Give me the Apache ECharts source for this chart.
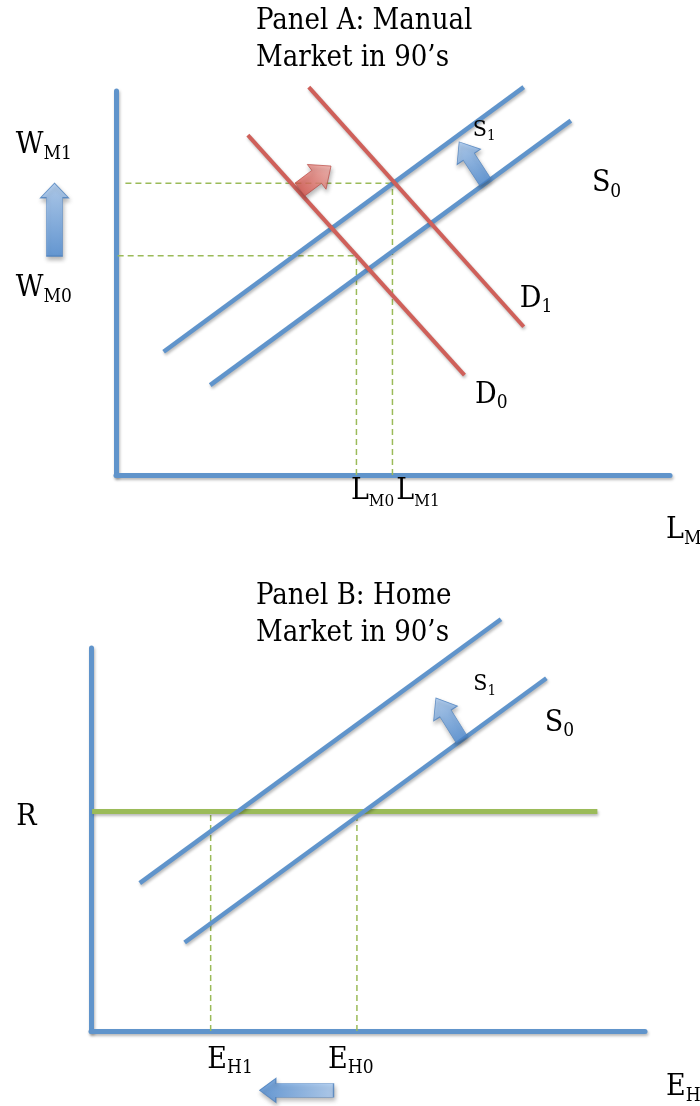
<!DOCTYPE html>
<html>
<head>
<meta charset="utf-8">
<script src="https://cdn.jsdelivr.net/npm/echarts@6/dist/echarts.min.js"></script>
<style>html,body{margin:0;padding:0;background:#fff}#c{width:700px;height:1106px}</style>
</head>
<body>
<div id="c"></div>
<script>
// ---------- DATA (axis units 0..100 on both axes of each panel) ----------
// Panel A: Manual market
const aSupply0 = [[17.0, 23.4], [82.1, 92.3]];
const aSupply1 = [[8.6, 32.1], [73.6, 101.0]];
const aDemand0 = [[23.8, 88.5], [62.9, 26.0]];
const aDemand1 = [[34.8, 101.0], [73.6, 38.6]];
const aWages = [57.1, 76.0];      // W_M0, W_M1
const aLabour = [43.4, 49.9];     // L_M0, L_M1
// Panel B: Home market
const bSupply0 = [[16.9, 23.1], [82.2, 92.1]];
const bSupply1 = [[8.8, 38.6], [74.0, 107.5]];
const bRate = 57.3;               // R
const bRateSpan = [0.2, 91.4];
const bEmployment = [21.6, 48.0]; // E_H1, E_H0

// ---------- STYLE ----------
const F = "'DejaVu Serif Condensed','DejaVu Serif',serif";
const BLUE = '#6094CB', RED = '#CF605A', GREEN = '#9BBB59';
const lineShadow = {shadowBlur: 3, shadowOffsetX: 1, shadowOffsetY: 2, shadowColor: 'rgba(0,0,0,0.28)'};

function arrowPath(headFrac, shaftFrac) {
  const H = headFrac * 100, s = shaftFrac * 50;
  return 'path://M50,0 L100,' + H + ' L' + (50 + s) + ',' + H + ' L' + (50 + s) + ',100 L' +
    (50 - s) + ',100 L' + (50 - s) + ',' + H + ' L0,' + H + ' Z';
}
function grad(c1, c2) {
  return new echarts.graphic.LinearGradient(0, 0, 0, 1, [{offset: 0, color: c1}, {offset: 1, color: c2}]);
}
const blueFill = grad('#A9CBF3', '#4E8DD6');
const redFill = grad('#F6B0AA', '#D9544B');

const rich = {
  m: {fontFamily: F, fontSize: 30, color: '#000', lineHeight: 34, verticalAlign: 'bottom', padding: [0, 0, 3, 0]},
  s: {fontFamily: F, fontSize: 19, color: '#000', lineHeight: 34, verticalAlign: 'bottom'},
  s3: {fontFamily: F, fontSize: 17, color: '#000', lineHeight: 34, verticalAlign: 'bottom'},
  m2: {fontFamily: F, fontSize: 23, color: '#000', lineHeight: 34, verticalAlign: 'bottom', padding: [0, 0, 3, 0]},
  s2: {fontFamily: F, fontSize: 15, color: '#000', lineHeight: 34, verticalAlign: 'bottom'}
};

function axisPair(grid) {
  return {
    type: 'value', min: 0, max: 100, gridIndex: grid,
    axisLine: {show: true, onZero: false, lineStyle: Object.assign({color: BLUE, width: 5}, lineShadow)},
    axisTick: {show: false}, axisLabel: {show: false}, splitLine: {show: false}
  };
}
function seg(name, data, gi, color, width, dashed, z) {
  return {
    name: name, type: 'line', xAxisIndex: gi, yAxisIndex: gi, data: data,
    showSymbol: false, symbol: 'none', clip: false, silent: true, z: z || 3,
    lineStyle: Object.assign({color: color, width: width, type: dashed ? [6, 4] : 'solid', cap: 'butt'},
      dashed ? {} : lineShadow)
  };
}
function arrows(gi, items) {
  return {
    type: 'scatter', xAxisIndex: gi, yAxisIndex: gi, clip: false, silent: true, z: 6,
    data: items.map(a => ({
      value: a.at, symbol: arrowPath(a.head, a.shaft), symbolSize: a.size, symbolRotate: a.rot,
      itemStyle: {color: a.fill, borderColor: a.border, borderWidth: 0.8,
        shadowBlur: 4, shadowOffsetX: 1, shadowOffsetY: 3, shadowColor: 'rgba(0,0,0,0.35)'}
    }))
  };
}
function labels(gi, items) {
  return {
    type: 'scatter', xAxisIndex: gi, yAxisIndex: gi, clip: false, silent: true, z: 7,
    symbolSize: 0,
    data: items.map(l => ({value: l.at, label: {show: true, position: 'right', distance: 0, color: '#000',
      opacity: 1, formatter: l.text, rich: rich}}))
  };
}

const series = [
  // Panel A guides
  seg('wM1', [[1.7, aWages[1]], [aLabour[1], aWages[1]]], 0, GREEN, 1.5, true, 2),
  seg('wM0', [[0.3, aWages[0]], [aLabour[0], aWages[0]]], 0, GREEN, 1.5, true, 2),
  seg('lM0', [[aLabour[0], 0], [aLabour[0], aWages[0]]], 0, GREEN, 1.5, true, 2),
  seg('lM1', [[aLabour[1], 0], [aLabour[1], aWages[1]]], 0, GREEN, 1.5, true, 2),
  // Panel A curves
  seg('S1', aSupply1, 0, BLUE, 4.5),
  seg('S0', aSupply0, 0, BLUE, 4.5),
  seg('D0', aDemand0, 0, RED, 4),
  seg('D1', aDemand1, 0, RED, 4),
  arrows(0, [
    {at: [-11.1, 66.5], head: 0.2, shaft: 0.58, size: [28, 73], rot: 0, fill: blueFill, border: '#4A7EBB'},
    {at: [36.0, 77.4], head: 0.46, shaft: 0.52, size: [31, 39], rot: -53, fill: redFill, border: '#B84A44'},
    {at: [64.3, 81.5], head: 0.37, shaft: 0.47, size: [28, 48], rot: 33, fill: blueFill, border: '#4A7EBB'}
  ]),
  labels(0, [
    {at: [64.4, 90.6], text: '{m2|S}{s2|1}'},
    {at: [85.9, 75.7], text: '{m|S}{s|0}'},
    {at: [72.9, 45.6], text: '{m|D}{s|1}'},
    {at: [64.8, 20.6], text: '{m|D}{s|0}'},
    {at: [-18.1, 85.6], text: '{m|W}{s|M1}'},
    {at: [-18.1, 48.4], text: '{m|W}{s|M0}'},
    {at: [42.4, -4.6], text: '{m|L}{s3|M0}'},
    {at: [50.6, -4.6], text: '{m|L}{s3|M1}'},
    {at: [99.3, -14.6], text: '{m|L}{s|M}'}
  ]),
  // Panel B guides
  seg('eH1', [[bEmployment[0], 0], [bEmployment[0], bRate]], 1, GREEN, 1.5, true, 2),
  seg('eH0', [[bEmployment[1], 0], [bEmployment[1], bRate]], 1, GREEN, 1.5, true, 2),
  seg('R', [[bRateSpan[0], bRate], [bRateSpan[1], bRate]], 1, GREEN, 5),
  seg('S1b', bSupply1, 1, BLUE, 4.5),
  seg('S0b', bSupply0, 1, BLUE, 4.5),
  arrows(1, [
    {at: [64.6, 81.5], head: 0.37, shaft: 0.47, size: [28, 49], rot: 32, fill: blueFill, border: '#4A7EBB'},
    {at: [37.1, -15.5], head: 0.22, shaft: 0.58, size: [24, 74], rot: 90, fill: grad('#4E8DD6', '#A9CBF3'), border: '#4A7EBB'}
  ]),
  labels(1, [
    {at: [69.0, 91.2], text: '{m2|S}{s2|1}'},
    {at: [81.9, 80.2], text: '{m|S}{s|0}'},
    {at: [-13.5, 55.6], text: '{m|R}'},
    {at: [21.0, -7.8], text: '{m|E}{s|H1}'},
    {at: [42.8, -7.8], text: '{m|E}{s|H0}'},
    {at: [103.8, -15.0], text: '{m|E}{s|H}'}
  ])
];

const chart = echarts.init(document.getElementById('c'), null, {renderer: 'canvas'});
chart.setOption({
  animation: false,
  backgroundColor: '#fff',
  title: [
    {text: 'Panel A: Manual\nMarket in 90’s', left: 256, top: 3, padding: 0,
      textStyle: {fontFamily: F, fontSize: 29, fontWeight: 'normal', color: '#000', lineHeight: 37}},
    {text: 'Panel B: Home\nMarket in 90’s', left: 256, top: 578, padding: 0,
      textStyle: {fontFamily: F, fontSize: 29, fontWeight: 'normal', color: '#000', lineHeight: 37}}
  ],
  grid: [
    {left: 116, top: 91, width: 554, height: 384},
    {left: 91, top: 648, width: 554, height: 383}
  ],
  xAxis: [axisPair(0), axisPair(1)],
  yAxis: [axisPair(0), axisPair(1)],
  series: series
});
</script>
</body>
</html>
